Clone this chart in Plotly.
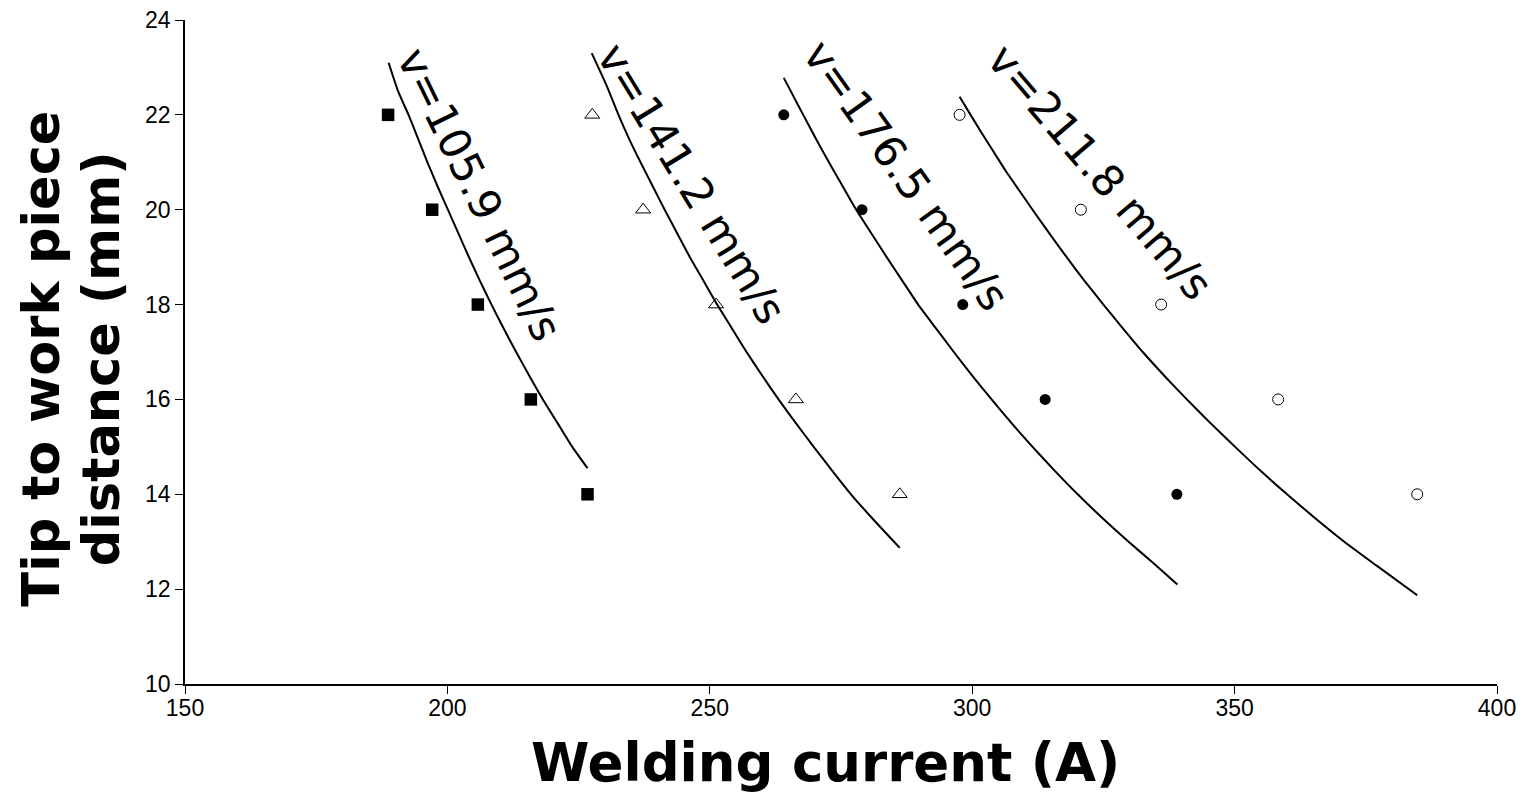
import plotly.graph_objects as go

# Measured data points (welding current A, tip-to-work distance mm)
distance = [22, 20, 18, 16, 14]
current_v1 = [188.7, 197.1, 205.8, 215.9, 226.7]
current_v2 = [227.6, 237.3, 251.2, 266.4, 286.2]
current_v3 = [264.1, 279.0, 298.2, 313.9, 339.0]
current_v4 = [297.6, 320.7, 336.0, 358.3, 384.8]

# Model curves
curve_v1_x = [188.8, 190.6, 192.6, 194.4, 196.2, 198.1, 200.1, 202.1, 204.1, 206.2, 208.4,
              210.7, 213.1, 215.6, 218.2, 221.0, 223.8, 226.7]
curve_v1_y = [23.1, 22.5, 22.0, 21.5, 21.0, 20.5, 20.0, 19.5, 19.0, 18.5, 18.0,
              17.5, 17.0, 16.5, 16.0, 15.5, 15.0, 14.55]
curve_v2_x = [227.5, 230.4, 232.6, 234.6, 236.8, 239.1, 241.4, 243.8, 246.2, 248.8, 251.4,
              254.2, 257.0, 260.0, 263.1, 266.4, 269.8, 273.3, 276.9, 280.9, 286.2]
curve_v2_y = [23.3, 22.6, 22.0, 21.5, 21.0, 20.5, 20.0, 19.5, 19.0, 18.5, 18.0,
              17.5, 17.0, 16.5, 16.0, 15.5, 15.0, 14.5, 14.0, 13.5, 12.87]
curve_v3_x = [264.1, 265.9, 267.8, 270.2, 272.7, 275.3, 277.9, 280.8, 283.7, 286.7, 289.7,
              293.1, 296.5, 300.0, 303.7, 307.5, 311.5, 315.7, 320.1, 324.8, 329.8, 334.5, 339.1]
curve_v3_y = [22.78, 22.4, 22.0, 21.5, 21.0, 20.5, 20.0, 19.5, 19.0, 18.5, 18.0,
              17.5, 17.0, 16.5, 16.0, 15.5, 15.0, 14.5, 14.0, 13.5, 13.0, 12.55, 12.1]
curve_v4_x = [297.6, 299.7, 301.9, 304.2, 306.5, 309.0, 311.5, 314.7, 318.0, 321.4, 325.0,
              328.7, 332.5, 336.6, 340.9, 345.4, 350.1, 354.9, 360.0, 365.3, 370.9, 377.0, 384.8]
curve_v4_y = [22.38, 22.0, 21.6, 21.2, 20.8, 20.4, 20.0, 19.5, 19.0, 18.5, 18.0,
              17.5, 17.0, 16.5, 16.0, 15.5, 15.0, 14.5, 14.0, 13.5, 13.0, 12.5, 11.87]

labels = ["v=105.9 mm/s", "v=141.2 mm/s", "v=176.5 mm/s", "v=211.8 mm/s"]
label_x = [206.2, 246.6, 287.4, 324.4]
label_y = [20.31, 20.54, 20.73, 20.8]
label_angle = [64, 58.5, 54.5, 49.5]

x_ticks = [150, 200, 250, 300, 350, 400]
y_ticks = [10, 12, 14, 16, 18, 20, 22, 24]

x_title = "Welding current (A)"
y_title_lines = ["Tip to work piece", "distance (mm)"]

fig = go.Figure()

curves = [(curve_v1_x, curve_v1_y), (curve_v2_x, curve_v2_y),
          (curve_v3_x, curve_v3_y), (curve_v4_x, curve_v4_y)]
for cx, cy in curves:
    fig.add_trace(go.Scatter(x=cx, y=cy, mode="lines",
                             line=dict(color="black", width=2, shape="spline", smoothing=0.5),
                             showlegend=False, hoverinfo="skip"))

marker_styles = [
    dict(symbol="square", size=12.5, color="black"),
    dict(symbol="triangle-up-open", size=13, color="black", line=dict(width=1)),
    dict(symbol="circle", size=11, color="black"),
    dict(symbol="circle-open", size=11, color="black", line=dict(width=1)),
]
for xs, ms in zip([current_v1, current_v2, current_v3, current_v4], marker_styles):
    fig.add_trace(go.Scatter(x=xs, y=distance, mode="markers", marker=ms, showlegend=False))

for t, lx, ly, ang in zip(labels, label_x, label_y, label_angle):
    fig.add_annotation(x=lx, y=ly, text=t, showarrow=False, textangle=ang,
                       font=dict(family="DejaVu Sans", size=43, color="black"),
                       xanchor="center", yanchor="middle")

# Axis titles as annotations for precise placement
fig.add_annotation(xref="paper", yref="paper", x=0.488, y=-0.118, text="<b>%s</b>" % x_title,
                   showarrow=False, xanchor="center", yanchor="middle",
                   font=dict(family="DejaVu Sans", size=53, color="black"))
for lx, line in zip([-0.109, -0.0635], y_title_lines):
    fig.add_annotation(xref="paper", yref="paper", x=lx, y=0.49, text="<b>%s</b>" % line,
                       showarrow=False, xanchor="center", yanchor="middle", textangle=-90,
                       font=dict(family="DejaVu Sans", size=51, color="black"))

fig.update_layout(
    width=1516, height=788,
    margin=dict(l=177, r=27, t=12, b=112, autoexpand=False),
    plot_bgcolor="white", paper_bgcolor="white",
    xaxis=dict(range=[150, 400], tickvals=x_ticks, showgrid=False, zeroline=False, automargin=False,
               showline=True, linecolor="black", linewidth=1.5, ticks="outside", ticklen=8,
               tickcolor="black", ticklabeloverflow="allow", ticklabelstandoff=-5,
               tickfont=dict(family="Liberation Sans", size=23, color="black")),
    yaxis=dict(range=[10, 24], tickvals=y_ticks, showgrid=False, zeroline=False, automargin=False,
               showline=True, linecolor="black", linewidth=1.5, ticks="outside", ticklen=8,
               tickcolor="black", ticklabeloverflow="allow",
               tickfont=dict(family="Liberation Sans", size=23, color="black")),
)

fig.write_html("out.html")
